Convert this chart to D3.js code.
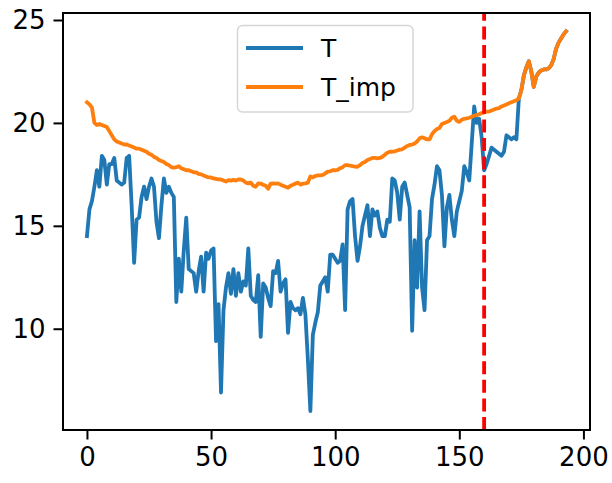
<!DOCTYPE html>
<html>
<head>
    <script src="https://d3js.org/d3.v7.min.js"></script>
    <style>
        body { margin: 0; background: #fff; }
        text { font-family: "DejaVu Sans", sans-serif; fill: #000; }
    </style>
</head>
<body>
    <svg id="chart" width="612" height="483"></svg>
    <script>
        // readings of the two series, index 0..193
        const tValues = [
            14.5, 15.8, 16.2, 16.9, 17.7, 16.9, 18.4, 18.2, 17.0, 18.0,
            18.0, 18.3, 17.2, 17.1, 17.0, 17.1, 18.3, 18.4, 16.0, 13.2,
            15.3, 15.4, 16.4, 16.9, 16.3, 16.9, 17.3, 16.9, 15.2, 14.4,
            16.0, 17.3, 16.6, 16.9, 16.6, 16.4, 11.3, 13.4, 11.8, 13.8,
            15.4, 12.9, 12.8, 12.7, 11.8, 12.8, 13.5, 11.8, 13.7, 13.4,
            13.8, 13.9, 9.4, 11.2, 6.9, 10.9, 12.0, 12.7, 11.7, 12.9,
            11.6, 12.7, 11.8, 12.3, 12.1, 13.9, 11.6, 11.4, 11.3, 12.6,
            9.6, 12.2, 12.0, 11.5, 11.1, 12.8, 12.7, 13.3, 11.8, 12.2,
            12.4, 9.8, 11.3, 11.0, 10.9, 11.0, 10.7, 11.5, 10.7, 8.5,
            6.0, 9.7, 10.3, 10.8, 12.1, 12.3, 12.5, 11.8, 13.6, 13.6,
            13.4, 13.2, 13.3, 14.1, 10.9, 15.8, 16.2, 16.3, 14.5, 13.3,
            14.0, 15.0, 15.5, 16.0, 14.5, 15.8, 15.5, 15.7, 14.9, 14.5,
            14.5, 15.3, 15.2, 17.3, 17.2, 16.6, 15.3, 16.9, 17.1, 16.5,
            15.9, 9.9, 14.3, 12.0, 15.7, 12.0, 10.9, 14.3, 14.5, 16.3,
            17.0, 17.9, 17.7, 16.5, 14.0, 15.9, 16.5, 15.3, 14.5, 15.7,
            16.2, 16.7, 17.9, 17.6, 17.2, 19.0, 20.8, 20.0, 20.2, 19.3,
            17.7, 18.0, 18.4, 18.8, 18.7, 18.6, 18.5, 18.4, 18.6, 19.4,
            19.3, 19.2, 19.3, 19.2, 21.2, 21.6, 22.3, 22.7, 23.0, 22.5,
            21.75, 22.25, 22.45, 22.55, 22.6, 22.6, 22.65, 22.8, 23.1, 23.6,
            23.9, 24.1, 24.3, 24.45
        ];

        const tImpValues = [
            21.0, 20.9, 20.75, 20.0, 19.9, 19.95, 19.9, 19.85, 19.8, 19.6,
            19.4, 19.2, 19.1, 19.05, 19.0, 18.95, 18.95, 18.9, 18.85, 18.8,
            18.75, 18.75, 18.7, 18.65, 18.6, 18.5, 18.45, 18.35, 18.3, 18.2,
            18.15, 18.1, 18.0, 17.95, 17.85, 17.82, 17.85, 17.9, 17.8, 17.75,
            17.7, 17.7, 17.65, 17.6, 17.6, 17.52, 17.5, 17.45, 17.4, 17.35,
            17.35, 17.3, 17.28, 17.26, 17.25, 17.2, 17.15, 17.22, 17.2, 17.23,
            17.2, 17.25, 17.25, 17.2, 17.1, 17.06, 17.1, 16.95, 16.9, 17.06,
            17.05, 17.0, 16.95, 16.8, 17.05, 17.06, 17.05, 17.06, 17.0, 16.95,
            16.9, 16.85, 16.95, 17.0, 17.05, 17.1, 17.0, 17.05, 17.06, 17.1,
            17.4, 17.35, 17.42, 17.45, 17.45, 17.47, 17.55, 17.63, 17.65, 17.7,
            17.7, 17.72, 17.8, 17.85, 17.95, 17.95, 17.92, 17.9, 17.88, 17.87,
            17.95, 18.05, 18.1, 18.2, 18.25, 18.3, 18.3, 18.28, 18.3, 18.35,
            18.45, 18.55, 18.6, 18.6, 18.62, 18.66, 18.7, 18.72, 18.8, 18.88,
            18.93, 18.95, 19.0, 19.1, 19.25, 19.3, 19.25, 19.2, 19.2, 19.45,
            19.6, 19.7, 19.75, 19.95, 20.0, 20.05, 20.1, 20.25, 20.3, 20.1,
            20.05, 20.15, 20.2, 20.22, 20.25, 20.3, 20.35, 20.38, 20.42, 20.48,
            20.5, 20.55, 20.55, 20.6, 20.65, 20.7, 20.72, 20.8, 20.85, 20.9,
            20.95, 21.0, 21.05, 21.1, 21.2, 21.6, 22.3, 22.7, 23.0, 22.5,
            21.75, 22.25, 22.45, 22.55, 22.6, 22.6, 22.65, 22.8, 23.1, 23.6,
            23.9, 24.1, 24.3, 24.45
        ];

        const seriesNames = ["T", "T_imp"];
        const splitIndex = 160;
        const xTicks = [0, 50, 100, 150, 200];
        const yTicks = [10, 15, 20, 25];

        const svg = d3.select("#chart");
        const plotLeft = 63, plotRight = 590, plotTop = 13, plotBottom = 430;

        const xScale = d3.scaleLinear().domain([-9.65, 202.65]).range([plotLeft, plotRight]);
        const yScale = d3.scaleLinear().domain([5.08, 25.34]).range([plotBottom, plotTop]);

        const colors = ["#1f77b4", "#ff7f0e"];

        const line = d3.line()
            .x((d, i) => xScale(i))
            .y(d => yScale(d));

        const plot = svg.append("g");

        [tValues, tImpValues].forEach((vals, k) => {
            plot.append("path")
                .datum(vals)
                .attr("d", line)
                .attr("fill", "none")
                .attr("stroke", colors[k])
                .attr("stroke-width", 3.8)
                .attr("stroke-linejoin", "round")
                .attr("stroke-linecap", "square");
        });

        // split marker, drawn bottom -> top like axvline
        plot.append("line")
            .attr("x1", xScale(splitIndex))
            .attr("x2", xScale(splitIndex))
            .attr("y1", plotBottom)
            .attr("y2", plotTop)
            .attr("stroke", "#ff0000")
            .attr("stroke-width", 3.8)
            .attr("stroke-dasharray", "13,5.6");

        // axes
        const xAxis = svg.append("g")
            .attr("transform", `translate(0,${plotBottom})`)
            .call(d3.axisBottom(xScale).tickValues(xTicks).tickSize(9.5).tickPadding(8).tickFormat(d3.format("d")));
        const yAxis = svg.append("g")
            .attr("transform", `translate(${plotLeft},0)`)
            .call(d3.axisLeft(yScale).tickValues(yTicks).tickSize(9.5).tickPadding(8).tickFormat(d3.format("d")));

        [xAxis, yAxis].forEach(ax => {
            ax.select(".domain").remove();
            ax.selectAll(".tick line").attr("stroke", "#000").attr("stroke-width", 2);
            ax.selectAll(".tick text")
                .style("font-family", "'DejaVu Sans', sans-serif")
                .style("font-size", "26px")
                .attr("fill", "#000");
        });

        svg.append("rect")
            .attr("x", plotLeft)
            .attr("y", plotTop)
            .attr("width", plotRight - plotLeft)
            .attr("height", plotBottom - plotTop)
            .attr("fill", "none")
            .attr("stroke", "#000")
            .attr("stroke-width", 2);

        // legend
        const legend = svg.append("g");
        legend.append("rect")
            .attr("x", 237.5)
            .attr("y", 25.5)
            .attr("width", 175.5)
            .attr("height", 86.5)
            .attr("rx", 5)
            .attr("fill", "rgba(255,255,255,0.8)")
            .attr("stroke", "#d6d6d6")
            .attr("stroke-width", 1.5);

        seriesNames.forEach((name, k) => {
            const yy = 48 + k * 39;
            legend.append("line")
                .attr("x1", 246).attr("x2", 303)
                .attr("y1", yy).attr("y2", yy)
                .attr("stroke", colors[k])
                .attr("stroke-width", 3.8);
            legend.append("text")
                .attr("x", 321)
                .attr("y", yy + 9)
                .style("font-size", "25px")
                .text(name);
        });
    </script>
</body>
</html>
